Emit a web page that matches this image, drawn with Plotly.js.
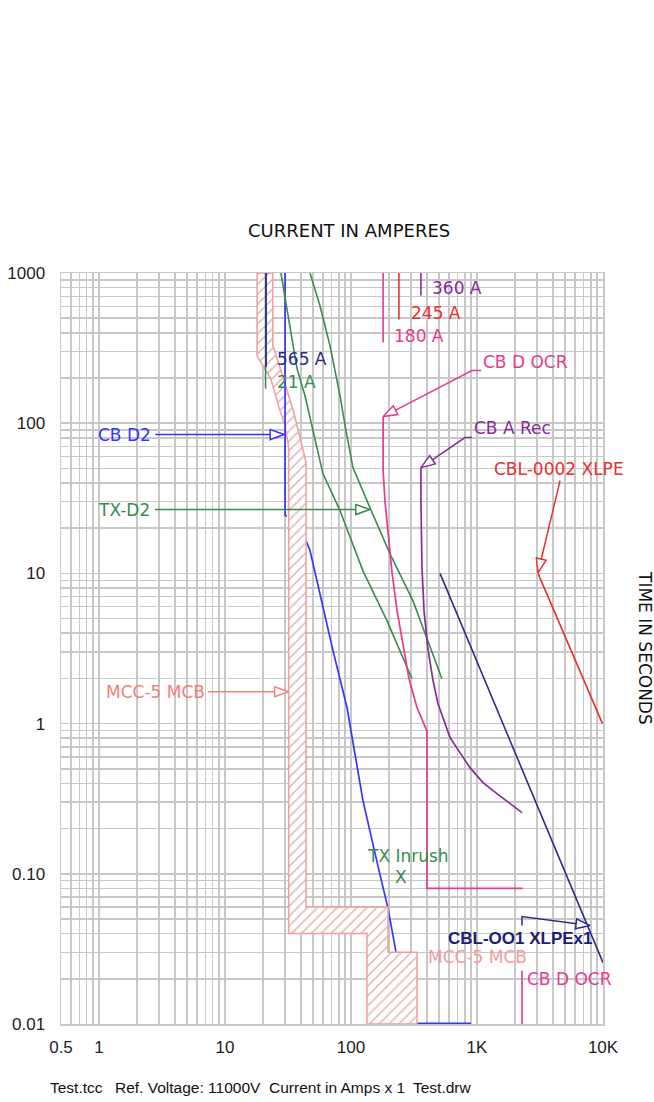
<!DOCTYPE html>
<html><head><meta charset="utf-8">
<script src="https://cdn.plot.ly/plotly-3.0.1.min.js"></script>
<style>html,body{margin:0;padding:0;background:#fff}</style>
</head><body><div id="chart" style="width:654px;height:1102px"></div>
<script>
// ---- Axis ticks ----
const xTickVals = [0.5, 1, 10, 100, 1000, 10000];
const xTickText = ['0.5', '1', '10', '100', '1K', '10K'];
const yTickVals = [0.01, 0.1, 1, 10, 100, 1000];
const yTickText = ['0.01', '0.10', '1', '10', '100', '1000'];

// ---- MCC-5 MCB band (amps, seconds) ----
const mccBandX = [18, 18, 23, 27, 30, 32, 32, 134, 134, 334, 334, 197, 197, 44, 44, 41, 35, 29, 24, 24, 18];
const mccBandY = [1000, 280, 200, 125, 96, 70, 0.04, 0.04, 0.01, 0.01, 0.03, 0.03, 0.06, 0.06, 55, 70, 120, 200, 330, 1000, 1000];

// ---- CB D2 ----
const cbD2LongX = [30, 30, 31];
const cbD2LongY = [1000, 24.3, 24];
const cbD2InstX = [44, 47.3, 56.7, 72, 93, 124.5, 167, 197, 228, 228, 896];
const cbD2InstY = [16.5, 14.2, 7.34, 3.06, 1.28, 0.307, 0.105, 0.0587, 0.0299, 0.0101, 0.0101];

// ---- TX curves (green) ----
const txAX = [27.8, 32.2, 37.3, 43.1, 49.9, 59.9, 81.8, 124.5, 193, 305];
const txAY = [1000, 482, 231, 153, 89.3, 46.2, 26.2, 10.4, 4.85, 1.99];
const txBX = [47.3, 56.7, 68.1, 81.8, 91.2, 103.7, 141.5, 204, 310, 527];
const txBY = [1000, 607, 329, 153, 89.3, 50.6, 27.4, 13.5, 6.59, 1.99];
const tx21X = [21, 21];
const tx21Y = [1000, 170];

// ---- pickup markers ----
const navy565X = [21.2, 21.2];
const navy565Y = [1000, 238];
const pink180X = [180, 180];
const pink180Y = [1000, 344];
const red245X = [240, 240];
const red245Y = [1000, 490];
const purple360X = [359, 359];
const purple360Y = [1000, 707];

// ---- CB D OCR (pink) ----
const ocrX = [180, 180, 186, 197, 211, 232, 259, 289, 334, 395, 401, 401, 2300];
const ocrY = [110.7, 48.3, 30.5, 18.4, 10.4, 5.65, 3.41, 1.99, 1.28, 0.9, 0.89, 0.08, 0.08];
const ocrBotX = [2276, 2276];
const ocrBotY = [0.0227, 0.01];

// ---- CB A Rec (purple) ----
const recX = [359, 359, 366, 380, 408, 448, 490, 537, 611, 733, 880, 1116, 1340, 2276];
const recY = [50.6, 30.5, 10.9, 5.65, 3.16, 1.93, 1.36, 1.096, 0.807, 0.641, 0.509, 0.405, 0.358, 0.2556];

// ---- cables ----
const cbl001X = [509, 10000];
const cbl001Y = [10, 0.0256];
const cbl0002X = [3050, 9900];
const cbl0002Y = [10, 1.0];

// ---- label leaders ----
const leadCbD2X = [2.8, 29.5], leadCbD2Y = [84, 84];
const leadTxD2X = [2.78, 141], leadTxD2Y = [26.6, 26.6];
const leadMccX = [7.3, 32], leadMccY = [1.63, 1.63];
const leadOcrX = [1080, 912, 180], leadOcrY = [224, 224, 110.7];
const leadRecX = [912, 803, 359], leadRecY = [80.2, 80.2, 50.6];
const leadCbl2X = [4560, 3050], leadCbl2Y = [41.5, 10.1];
const leadCbl1X = [2276, 2276, 7880], leadCbl1Y = [0.0452, 0.0519, 0.0452];

// ---- colours ----
const C = {
  band: '#f29c9c', bandText: '#f08080', blue: '#3535ff', navy: '#2b2b8c',
  green: '#3a8c50', pink: '#e83a8e', purple: '#8a2a9c', red: '#e83030'
};

// ---- geometry helpers (for arrowheads only) ----
const M = {l: 61, r: 51, t: 273, b: 78};
const W = 654 - M.l - M.r, H = 1102 - M.t - M.b;
const LX0 = Math.log10(0.5), LX1 = 4, LY0 = -2, LY1 = 3;
const toPx = x => M.l + (Math.log10(x) - LX0) / (LX1 - LX0) * W;
const toPy = y => M.t + (LY1 - Math.log10(y)) / (LY1 - LY0) * H;
const fromPx = p => Math.pow(10, LX0 + (p - M.l) / W * (LX1 - LX0));
const fromPy = p => Math.pow(10, LY1 - (p - M.t) / H * (LY1 - LY0));
function head(xs, ys, L = 14, w = 5) {
  const n = xs.length;
  const tx = toPx(xs[n-1]), ty = toPy(ys[n-1]);
  const fx = toPx(xs[n-2]), fy = toPy(ys[n-2]);
  let dx = tx - fx, dy = ty - fy; const d = Math.hypot(dx, dy); dx /= d; dy /= d;
  const bx = tx - L*dx, by = ty - L*dy;
  const pts = [[tx, ty], [bx - w*dy, by + w*dx], [bx + w*dy, by - w*dx], [tx, ty]];
  return {x: pts.map(p => fromPx(p[0])), y: pts.map(p => fromPy(p[1]))};
}

function line(x, y, color, width = 1.6) {
  return {type: 'scatter', mode: 'lines', x, y, line: {color, width}, hoverinfo: 'skip', showlegend: false};
}
function arrow(x, y, color) {
  const h = head(x, y);
  return [line(x, y, color, 1.5),
    {type: 'scatter', mode: 'lines', x: h.x, y: h.y, fill: 'toself', fillcolor: '#ffffff',
     line: {color, width: 1.5}, hoverinfo: 'skip', showlegend: false}];
}

const traces = [
  line(cbD2InstX, cbD2InstY, C.blue, 1.7),
  {type: 'scatter', mode: 'lines', x: mccBandX, y: mccBandY, fill: 'toself',
   fillcolor: '#ffffff',
   fillpattern: {shape: '/', bgcolor: '#ffffff', fgcolor: '#d9aaaa', size: 7, solidity: 0.18},
   line: {color: C.band, width: 1.5}, hoverinfo: 'skip', showlegend: false},
  line(tx21X, tx21Y, C.green),
  line(navy565X, navy565Y, C.navy, 1.7),
  line(cbD2LongX, cbD2LongY, C.blue, 1.7),
  line(txAX, txAY, C.green),
  line(txBX, txBY, C.green),
  line(pink180X, pink180Y, C.pink),
  line(red245X, red245Y, C.red),
  line(purple360X, purple360Y, C.purple),
  line(ocrX, ocrY, C.pink, 1.7),
  line(ocrBotX, ocrBotY, C.pink),
  line(recX, recY, C.purple, 1.7),
  line(cbl001X, cbl001Y, C.navy),
  line(cbl0002X, cbl0002Y, C.red),
  ...arrow(leadCbD2X, leadCbD2Y, C.blue),
  ...arrow(leadTxD2X, leadTxD2Y, C.green),
  ...arrow(leadMccX, leadMccY, C.bandText),
  ...arrow(leadOcrX, leadOcrY, C.pink),
  ...arrow(leadRecX, leadRecY, C.purple),
  ...arrow(leadCbl2X, leadCbl2Y, C.red),
  ...arrow(leadCbl1X, leadCbl1Y, C.navy)
];

const LF = 'DejaVu Sans, Verdana, sans-serif';
function lab(text, x, y, color, xanchor = 'left', extra = {}) {
  return Object.assign({text, x: Math.log10(x), y: Math.log10(y), xref: 'x', yref: 'y',
    xanchor, yanchor: 'middle', showarrow: false, font: {family: LF, size: 17, color}}, extra);
}
const FF = 'Liberation Sans, Arial, sans-serif';
function foot(text, px) {
  return {text, x: (px - M.l) / W, y: (M.t + H - 1087) / H, xref: 'paper', yref: 'paper',
    xanchor: 'left', yanchor: 'middle', showarrow: false, font: {family: FF, size: 15.5, color: '#111'}};
}

const annotations = [
  lab('CB D2', 2.68, 84, C.blue, 'right'),
  lab('TX-D2', 2.62, 26.6, C.green, 'right'),
  lab('MCC-5 MCB', 7.2, 1.63, C.bandText, 'right'),
  lab('CB D OCR', 1080, 257, C.pink),
  lab('CB A Rec', 912, 93.5, C.purple),
  lab('CBL-0002 XLPE', 1320, 49.9, C.red),
  lab('CBL-OO1 XLPEx1', 570, 0.037, '#1c1c78', 'left', {font: {family: 'Liberation Sans, Arial, sans-serif', size: 17, color: '#1c1c78', weight: 'bold'}}),
  lab('MCC-5 MCB', 395, 0.0281, C.band),
  lab('CB D OCR', 2420, 0.02, C.pink),
  lab('TX Inrush', 281, 0.132, C.green, 'center'),
  lab('X', 249, 0.0958, C.green, 'center'),
  lab('565 A', 25.0, 269, C.navy),
  lab('21 A', 25.0, 189, C.green),
  lab('360 A', 425, 800, C.purple),
  lab('245 A', 290, 545, C.red),
  lab('180 A', 212, 383, C.pink),
  {text: 'CURRENT IN AMPERES', x: (349 - M.l) / W, y: (M.t + H - 230) / H, xref: 'paper', yref: 'paper',
   xanchor: 'center', yanchor: 'middle', showarrow: false, font: {family: LF, size: 18, color: '#111'}},
  {text: 'TIME IN SECONDS', x: (645 - M.l) / W, y: (M.t + H - 648) / H, xref: 'paper', yref: 'paper',
   xanchor: 'center', yanchor: 'middle', textangle: 90, showarrow: false, font: {family: LF, size: 17, color: '#111'}},
  foot('Test.tcc', 48),
  foot('Ref. Voltage: 11000V', 113),
  foot('Current in Amps x 1', 267),
  foot('Test.drw', 411)
];

const grid = '#c8c8c8';
const tickFont = {family: 'Liberation Sans, Arial, sans-serif', size: 17, color: '#222'};
const layout = {
  width: 654, height: 1102, margin: M,
  paper_bgcolor: '#ffffff', plot_bgcolor: '#ffffff',
  showlegend: false,
  xaxis: {type: 'log', range: [LX0, LX1], tickmode: 'array', tickvals: xTickVals, ticktext: xTickText,
    showgrid: true, gridcolor: grid, gridwidth: 1.5, zeroline: false, showline: true, linecolor: grid, linewidth: 1.5, mirror: true,
    ticks: 'outside', ticklen: 7, tickcolor: 'rgba(0,0,0,0)', tickfont: tickFont,
    minor: {dtick: 'D1', showgrid: true, gridcolor: grid, gridwidth: 1.5, ticks: ''}, fixedrange: true},
  yaxis: {type: 'log', range: [LY0, LY1], tickmode: 'array', tickvals: yTickVals, ticktext: yTickText,
    showgrid: true, gridcolor: grid, gridwidth: 1.5, zeroline: false, showline: true, linecolor: grid, linewidth: 1.5, mirror: true,
    ticks: 'outside', ticklen: 11, tickcolor: 'rgba(0,0,0,0)', tickfont: tickFont,
    minor: {dtick: 'D1', showgrid: true, gridcolor: grid, gridwidth: 1.5, ticks: ''}, fixedrange: true},
  annotations
};

Plotly.newPlot('chart', traces, layout, {staticPlot: true, displayModeBar: false});
</script></body></html>
